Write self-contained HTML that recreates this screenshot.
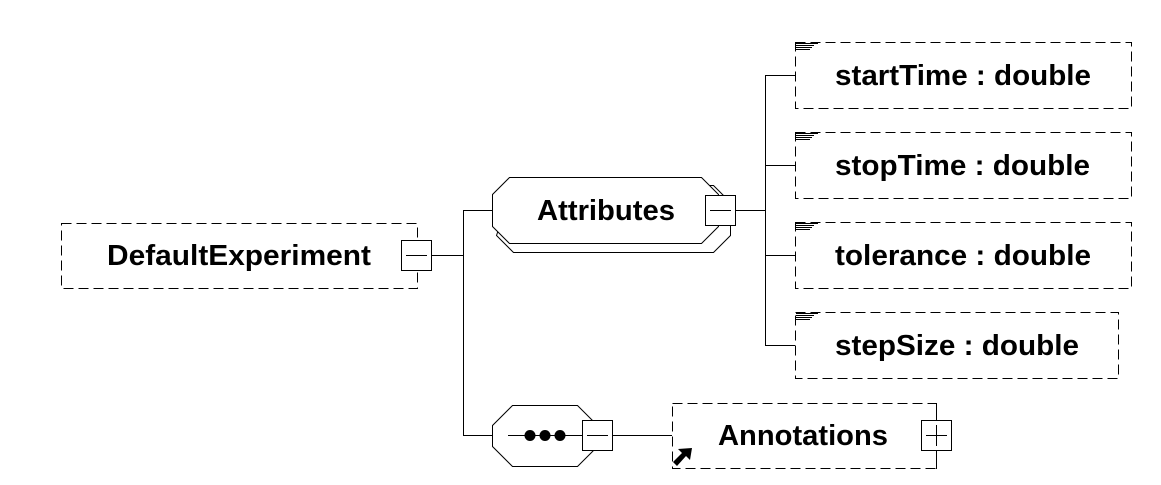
<!DOCTYPE html>
<html><head><style>
html,body{margin:0;padding:0;background:#fff;}
svg text{font-family:"Liberation Sans",Arial,sans-serif;font-weight:bold;font-size:29px;fill:#000;}
</style></head><body>
<svg width="1161" height="480" viewBox="0 0 1161 480" xmlns="http://www.w3.org/2000/svg">
<g fill="none" stroke="#000" stroke-width="1" shape-rendering="crispEdges">
<rect x="61.5" y="223.5" width="356" height="65" stroke-dasharray="10,5"/>
<rect x="401.5" y="240.5" width="30" height="30" fill="#fff"/>
<line x1="406" y1="255.5" x2="427" y2="255.5"/>
<line x1="431" y1="255.5" x2="463" y2="255.5"/>
<line x1="463.5" y1="210" x2="463.5" y2="436"/>
<line x1="463" y1="210.5" x2="493" y2="210.5"/>
<line x1="463" y1="435.5" x2="493" y2="435.5"/>
</g>
<g fill="none" stroke="#000" stroke-width="1">
<polygon points="513.5,185.5 713.5,185.5 730.5,202.5 730.5,235.5 713.5,252.5 513.5,252.5 496.5,235.5" fill="#fff"/>
<polygon points="509.5,177.5 701.5,177.5 718.5,194.5 718.5,226.5 701.5,243.5 509.5,243.5 492.5,226.5 492.5,194.5" fill="#fff"/>
<polygon points="512.5,405.5 577.5,405.5 597.5,425.5 597.5,446.5 577.5,466.5 512.5,466.5 492.5,446.5 492.5,425.5" fill="#fff"/>
</g>
<g fill="none" stroke="#000" stroke-width="1" shape-rendering="crispEdges">
<rect x="705.5" y="195.5" width="30" height="30" fill="#fff"/>
<line x1="710" y1="210.5" x2="731" y2="210.5"/>
<line x1="735" y1="210.5" x2="765" y2="210.5"/>
<line x1="765.5" y1="75" x2="765.5" y2="346"/>
<line x1="765" y1="75.5" x2="795" y2="75.5"/>
<line x1="765" y1="165.5" x2="795" y2="165.5"/>
<line x1="765" y1="255.5" x2="795" y2="255.5"/>
<line x1="765" y1="345.5" x2="795" y2="345.5"/>
<rect x="795.5" y="42.5" width="336" height="66" stroke-dasharray="10,5"/>
<rect x="795.5" y="132.5" width="336" height="66" stroke-dasharray="10,5"/>
<rect x="795.5" y="222.5" width="336" height="66" stroke-dasharray="10,5"/>
<rect x="795.5" y="312.5" width="323" height="66" stroke-dasharray="10,5"/>
<line x1="508" y1="435.5" x2="582" y2="435.5"/>
<rect x="582.5" y="420.5" width="30" height="30" fill="#fff"/>
<line x1="587" y1="435.5" x2="608" y2="435.5"/>
<line x1="612" y1="435.5" x2="672" y2="435.5"/>
<rect x="672.5" y="403.5" width="264" height="65" stroke-dasharray="10,5"/>
<line x1="936.5" y1="403" x2="936.5" y2="469"/>
<rect x="921.5" y="420.5" width="30" height="30" fill="#fff"/>
<line x1="926" y1="435.5" x2="947" y2="435.5"/>
<line x1="936.5" y1="425" x2="936.5" y2="446"/>
</g>
<g fill="#000">
<circle cx="530" cy="435.5" r="5.5"/><circle cx="545" cy="435.5" r="5.5"/><circle cx="560" cy="435.5" r="5.5"/>
<g shape-rendering="crispEdges">
<rect x="796" y="43" width="22" height="1"/><rect x="796" y="45" width="18" height="1"/><rect x="796" y="47" width="16" height="1"/><rect x="796" y="49" width="14" height="1"/>
<rect x="796" y="133" width="22" height="1"/><rect x="796" y="135" width="18" height="1"/><rect x="796" y="137" width="16" height="1"/><rect x="796" y="139" width="14" height="1"/>
<rect x="796" y="223" width="22" height="1"/><rect x="796" y="225" width="18" height="1"/><rect x="796" y="227" width="16" height="1"/><rect x="796" y="229" width="14" height="1"/>
<rect x="796" y="313" width="22" height="1"/><rect x="796" y="315" width="18" height="1"/><rect x="796" y="317" width="16" height="1"/><rect x="796" y="319" width="14" height="1"/>
</g>
<polygon points="692,448 690,460 686,456 677,466 673,462 682,453 678,449"/>
</g>
<text x="107" y="265" textLength="264" lengthAdjust="spacingAndGlyphs">DefaultExperiment</text>
<text x="537" y="220" textLength="138" lengthAdjust="spacingAndGlyphs">Attributes</text>
<text x="835" y="85" textLength="256" lengthAdjust="spacingAndGlyphs">startTime : double</text>
<text x="835" y="175" textLength="255" lengthAdjust="spacingAndGlyphs">stopTime : double</text>
<text x="835" y="265" textLength="256" lengthAdjust="spacingAndGlyphs">tolerance : double</text>
<text x="835" y="355" textLength="244" lengthAdjust="spacingAndGlyphs">stepSize : double</text>
<text x="718" y="445" textLength="170" lengthAdjust="spacingAndGlyphs">Annotations</text>
</svg>
</body></html>
